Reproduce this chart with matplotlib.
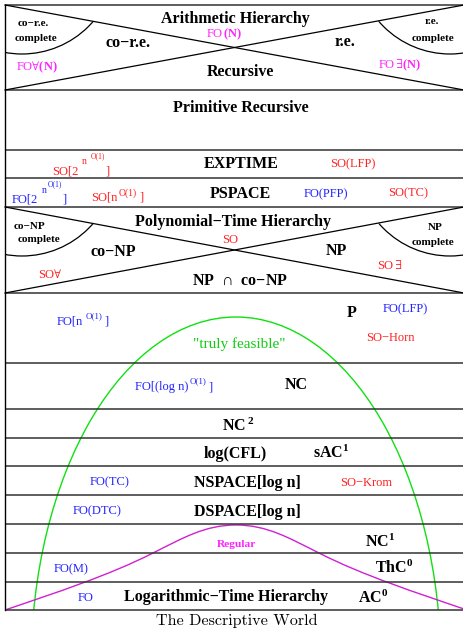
"""
plot.py — "The Descriptive World" complexity-class diagram.
"""

import numpy as np
import matplotlib
matplotlib.use("Agg")
import matplotlib.pyplot as plt
from matplotlib.patches import Arc, Ellipse, Polygon, PathPatch
from matplotlib.path import Path

# ── Fonts ────────────────────────────────────────────────────────────────────
plt.rcParams["font.family"] = ["Liberation Serif", "DejaVu Serif"]
plt.rcParams["mathtext.fontset"] = "custom"
plt.rcParams["mathtext.rm"] = "Liberation Serif"
plt.rcParams["mathtext.it"] = "Liberation Serif:italic"
plt.rcParams["mathtext.bf"] = "Liberation Serif:bold"
plt.rcParams["mathtext.fallback"] = "stix"

# ── Data ─────────────────────────────────────────────────────────────────────
W, H = 464, 629
LEFT, RIGHT = 5, 468
BAND_EDGES = [5, 90, 150, 178, 207, 293, 363, 409, 438, 466, 495, 524, 553, 582, 610]
CROSS_BANDS = [(5, 90), (207, 293)]          # bands with the X and corner arcs

# complexity classes (bold black)
CLASSES = ["Arithmetic Hierarchy", "co−r.e.", "r.e.", "Recursive",
           "Primitive Recursive", "EXPTIME", "PSPACE",
           "Polynomial−Time Hierarchy", "co−NP", "NP", r"NP  $\cap$  co−NP",
           "P", "NC", r"NC$^{\ \mathbf{2}}$", "log(CFL)", r"sAC$^{\mathbf{1}}$",
           "NSPACE[log n]", "DSPACE[log n]", r"NC$^{\mathbf{1}}$",
           r"ThC$^{\mathbf{0}}$", "Logarithmic−Time Hierarchy", r"AC$^{\mathbf{0}}$"]
CLASS_POS = [(235, 23), (128, 47), (345, 46), (240, 76),
             (241, 112), (241, 168), (240, 198),
             (233, 226), (113, 256), (336, 255), (240, 285),
             (352, 317), (296, 389), (239, 431), (235, 458), (331, 458),
             (247, 487), (247, 516), (380, 547),
             (394, 573), (226, 601), (373, 603)]

# small "complete" corner labels
CORNER = ["co−r.e.", "complete", "r.e.", "complete",
          "co−NP", "complete", "NP", "complete"]
CORNER_POS = [(33, 26), (36, 41), (432, 24), (433, 41),
              (30, 229), (39, 242), (435, 230), (433, 245)]

# descriptive (logic) characterisations
LOGIC = [r"FO$\,\mathbf{(N)}$", r"FO$\forall\mathbf{(N)}$", r"FO$\,\exists\mathbf{(N)}$",
         "SO(LFP)", "FO(PFP)", "SO(TC)",
         "SO", r"SO$\forall$", r"SO$\,\exists$",
         "FO(LFP)", "SO−Horn",
         "FO(TC)", "SO−Krom", "FO(DTC)", "FO(M)", "FO"]
LOGIC_POS = [(224, 37), (37, 70), (400, 68),
             (353, 167), (326, 197), (408, 196),
             (230, 243), (50, 278), (390, 269),
             (405, 312), (390, 341),
             (110, 485), (366, 486), (97, 514), (71, 572), (86, 601)]
MAGENTA, RED, BLUE = "#ff22ff", "#ff2222", "#2222ff"
LOGIC_COL = [MAGENTA] * 3 + [RED, BLUE, RED, RED, RED, RED,
                             BLUE, RED, BLUE, RED, BLUE, BLUE, BLUE]

# logic labels with stacked exponents: (piece, gap before, raise, size)
EXPONENT_LABELS = {
    "SO[2^n^O(1)]": [("SO[2", 0, 0, 9), ("n", 3, 11, 7),
                     ("O(1)", 4, 17, 5.5), ("]", 0, 0, 9)],
    "FO[2^n^O(1)]": [("FO[2", 0, 0, 9), ("n", 4, 9, 7),
                     ("O(1)", 1, 16, 5.5), ("]", 1, 0, 9)],
    "SO[n^O(1)]": [("SO[n", 0, 0, 9), ("O(1)", 2, 5, 7), ("]", 2, 0, 9)],
    "FO[n^O(1)]": [("FO[n", 0, 0, 9), ("O(1)", 3, 7, 6.5), ("]", 2, 0, 9)],
    "FO[(log n)^O(1)]": [("FO[(log n)", 0, 0, 9), ("O(1)", 1, 7, 6.5),
                         ("]", 2, 0, 9)],
}
EXPONENT_POS = {"SO[2^n^O(1)]": (81, 175), "FO[2^n^O(1)]": (39, 202),
                "SO[n^O(1)]": (117, 201), "FO[n^O(1)]": (83, 325),
                "FO[(log n)^O(1)]": (174, 390)}
EXPONENT_COL = {"SO[2^n^O(1)]": RED, "FO[2^n^O(1)]": BLUE, "SO[n^O(1)]": RED,
                "FO[n^O(1)]": BLUE, "FO[(log n)^O(1)]": BLUE}

# curves: "truly feasible" ellipse and the "Regular" bell (one half, mirrored)
FEASIBLE_CENTER, FEASIBLE_W, FEASIBLE_H = (236, 667), 410, 700
REGULAR_HALF = [(5, 610), (55, 593), (110, 575), (153, 553),
                (183, 538), (205, 525), (236, 525)]
AXIS_X = 236

# ── Figure ───────────────────────────────────────────────────────────────────
fig = plt.figure(figsize=(W / 100, H / 100), dpi=100)
ax = fig.add_axes([0, 0, 1, 1])
ax.set_xlim(0, W)
ax.set_ylim(H, 0)
ax.axis("off")

line_kw = dict(color="#333333", lw=1.1, solid_capstyle="butt")
for y in BAND_EDGES:
    ax.plot([LEFT, RIGHT], [y, y], **line_kw)
ax.plot([LEFT, LEFT], [BAND_EDGES[0], BAND_EDGES[-1]], color="black", lw=1.0)

for top, bot in CROSS_BANDS:
    ax.plot([LEFT, RIGHT - 4], [top, bot], color="black", lw=0.9)
    ax.plot([LEFT, RIGHT - 4], [bot, top], color="black", lw=0.9)
    mid = (top + bot) / 2
    left_tri = Polygon([(LEFT, top), (AXIS_X, mid), (LEFT, bot)], closed=True,
                       fill=False, lw=0)
    right_tri = Polygon([(RIGHT, top), (AXIS_X, mid), (RIGHT, bot)], closed=True,
                        fill=False, lw=0)
    ax.add_patch(left_tri)
    ax.add_patch(right_tri)
    for cx, tri in [(22, left_tri), (450, right_tri)]:
        arc = Arc((cx, top - 45), 188, 188, theta1=0, theta2=180,
                  color="black", lw=0.9)
        ax.add_patch(arc)
        arc.set_clip_path(tri)

clip_box = plt.Rectangle((LEFT, BAND_EDGES[0]), RIGHT - LEFT,
                         BAND_EDGES[-1] - BAND_EDGES[0], fill=False, lw=0)
ax.add_patch(clip_box)

feas = Ellipse(FEASIBLE_CENTER, FEASIBLE_W, FEASIBLE_H, fill=False,
               color="#11e011", lw=1.0)
ax.add_patch(feas)
feas.set_clip_path(clip_box)

half = np.array(REGULAR_HALF, dtype=float)
mirror = half[::-1][1:].copy()
mirror[:, 0] = 2 * AXIS_X - mirror[:, 0]
verts = np.vstack([half, mirror])
codes = [Path.MOVETO] + [Path.CURVE4] * (len(verts) - 1)
reg = PathPatch(Path(verts, codes), fill=False, edgecolor="#d020d0", lw=1.0)
ax.add_patch(reg)
reg.set_clip_path(clip_box)

# ── Text ─────────────────────────────────────────────────────────────────────
for label, (x, y) in zip(CLASSES, CLASS_POS):
    ax.text(x, y, label, ha="center", va="baseline", fontsize=11.5,
            fontweight="bold", color="black")
for label, (x, y) in zip(CORNER, CORNER_POS):
    ax.text(x, y, label, ha="center", va="baseline", fontsize=8,
            fontweight="bold", color="black")
for label, (x, y), c in zip(LOGIC, LOGIC_POS, LOGIC_COL):
    ax.text(x, y, label, ha="center", va="baseline", fontsize=9, color=c)


def exponent_label(key):
    """Lay out base text and raised exponents side by side, centred."""
    renderer = fig.canvas.get_renderer()
    cx, base = EXPONENT_POS[key]
    pieces = EXPONENT_LABELS[key]
    texts, widths = [], []
    for piece, gap, rise, size in pieces:
        t = ax.text(0, base - rise, piece, ha="left", va="baseline",
                    fontsize=size, color=EXPONENT_COL[key])
        widths.append(t.get_window_extent(renderer).width)
        texts.append(t)
    total = sum(widths) + sum(p[1] for p in pieces)
    x = cx - total / 2
    for t, w, p in zip(texts, widths, pieces):
        x += p[1]
        t.set_x(x)
        x += w


for key in EXPONENT_LABELS:
    exponent_label(key)

ax.text(239, 348, '"truly feasible"', ha="center", va="baseline",
        fontsize=11, color="#11cc11")
ax.text(236, 547, "Regular", ha="center", va="baseline", fontsize=8.2,
        fontweight="bold", color=MAGENTA)
ax.text(237, 625, "The Descriptive World", ha="center", va="baseline",
        fontsize=11.6, family="cmr10")

fig.savefig("out.png", dpi=100)
